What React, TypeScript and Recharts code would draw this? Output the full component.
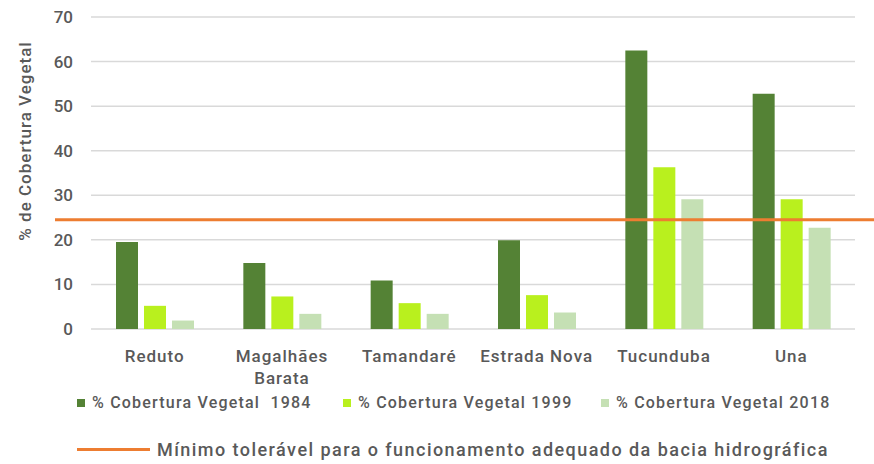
import React from 'react';
import { BarChart, Bar, XAxis, YAxis, CartesianGrid, ReferenceLine } from 'recharts';

const BACIAS = ['Reduto', 'Magalhães Barata', 'Tamandaré', 'Estrada Nova', 'Tucunduba', 'Una'];
const COB_1984 = [19.5, 14.8, 10.9, 19.9, 62.5, 52.8];
const COB_1999 = [5.2, 7.3, 5.8, 7.6, 36.3, 29.1];
const COB_2018 = [1.9, 3.4, 3.4, 3.7, 29.1, 22.7];
const Y_TICKS = [0, 10, 20, 30, 40, 50, 60, 70];
const LIMITE_MINIMO = 24.5;

const SERIES = [
  { key: 'c1984', name: '% Cobertura Vegetal\u00a0 1984', color: '#548235' },
  { key: 'c1999', name: '% Cobertura Vegetal 1999', color: '#B9F01E' },
  { key: 'c2018', name: '% Cobertura Vegetal 2018', color: '#C5E0B4' },
];
const LIMITE_LABEL = 'Mínimo tolerável para o funcionamento adequado da bacia hidrográfica';

const data = BACIAS.map((bacia, i) => ({
  bacia,
  c1984: COB_1984[i],
  c1999: COB_1999[i],
  c2018: COB_2018[i],
}));

const FONT = 'Roboto, sans-serif';
const TEXT = '#595959';

// quebra rótulos compridos em duas linhas
const CategoryTick = ({ x, y, payload }: any) => {
  const txt: string = payload.value;
  let lines = [txt];
  if (txt.length > 12 && txt.includes(' ')) {
    const i = txt.lastIndexOf(' ');
    lines = [txt.slice(0, i), txt.slice(i + 1)];
  }
  return (
    <g>
      {lines.map((l, k) => (
        <text
          key={k}
          x={x}
          y={y + 25 + k * 22}
          textAnchor="middle"
          fontSize={17}
          fontWeight={500}
          letterSpacing={1}
          fill={TEXT}
          fontFamily={FONT}
        >
          {l}
        </text>
      ))}
    </g>
  );
};

const YLabel = () => (
  <text
    transform="translate(31,141) rotate(-90)"
    textAnchor="middle"
    fontSize={17}
    fontWeight={500}
    letterSpacing={1}
    fill={TEXT}
    fontFamily={FONT}
  >
    % de Cobertura Vegetal
  </text>
);

const LimiteLine = (p: any) => (
  <line x1={55} x2={874} y1={p.y1} y2={p.y2} stroke="#ED7D31" strokeWidth={3} />
);

export default function App() {
  return (
    <div style={{ position: 'absolute', left: 0, top: 0, width: 874, height: 464, background: '#fff', fontFamily: FONT, fontWeight: 500 }}>
      <BarChart
        width={874}
        height={464}
        data={data}
        margin={{ top: 17, right: 19, left: 0, bottom: 75 }}
        barSize={22}
        barGap={6}
      >
        <CartesianGrid vertical={false} stroke="#d9d9d9" strokeWidth={1.5} />
        <XAxis dataKey="bacia" height={60} axisLine={false} tickLine={false} tick={<CategoryTick />} interval={0} />
        <YAxis
          width={91}
          domain={[0, 70]}
          ticks={Y_TICKS}
          axisLine={false}
          tickLine={false}
          tickMargin={12}
          tick={{ fontSize: 17, fill: TEXT, fontFamily: FONT, fontWeight: 500 }}
          label={<YLabel />}
        />
        {SERIES.map((s) => (
          <Bar key={s.key} dataKey={s.key} name={s.name} fill={s.color} isAnimationActive={false} />
        ))}
        <ReferenceLine y={LIMITE_MINIMO} shape={LimiteLine} />
      </BarChart>
      <div style={{ position: 'absolute', top: 393, left: 0, width: 874, height: 20, fontSize: 16, letterSpacing: 1.2, color: TEXT }}>
        {SERIES.map((s, i) => (
          <div
            key={s.key}
            style={{ position: 'absolute', left: [77, 343, 601][i], top: 0, display: 'flex', alignItems: 'center', whiteSpace: 'pre' }}
          >
            <span style={{ width: 8, height: 8, background: s.color, display: 'inline-block', marginRight: 7 }} />
            <span>{s.name}</span>
          </div>
        ))}
      </div>
      <div style={{ position: 'absolute', top: 439, left: 77, display: 'flex', alignItems: 'center', fontSize: 18, letterSpacing: 1.45, color: TEXT }}>
        <span style={{ width: 73, height: 3, background: '#ED7D31', display: 'inline-block', marginRight: 7 }} />
        <span>{LIMITE_LABEL}</span>
      </div>
    </div>
  );
}
